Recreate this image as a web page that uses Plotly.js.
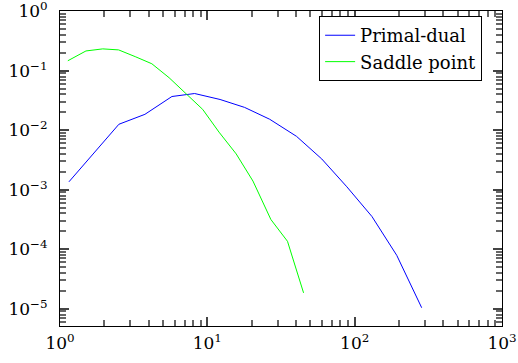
<!DOCTYPE html>
<html>
<head>
<meta charset="utf-8">
<script src="https://cdn.plot.ly/plotly-3.0.1.min.js"></script>
<style>html,body{margin:0;padding:0;background:#fff}#chart{width:518px;height:363px}</style>
</head>
<body>
<div id="chart"></div>
<script>
const primalDualX = [1.15, 1.70, 2.51, 3.77, 5.75, 8.2, 12.2, 17.9, 26.5, 40.3, 59.8, 88.5, 131, 193, 285];
const primalDualY = [0.00136, 0.0041, 0.0126, 0.0185, 0.0369, 0.0414, 0.0329, 0.0242, 0.0153, 0.0079, 0.00329, 0.00112, 0.000355, 0.000079, 0.0000104];
const saddleX = [1.13, 1.5, 1.95, 2.5, 3.27, 4.2, 5.5, 7.2, 9.3, 12, 15.7, 20.4, 27, 35, 45];
const saddleY = [0.147, 0.215, 0.233, 0.224, 0.171, 0.131, 0.0764, 0.041, 0.0224, 0.0093, 0.004, 0.0014, 0.000316, 0.000136, 0.0000185];
const seriesNames = ['Primal-dual', 'Saddle point'];
const xTickVals = [1, 10, 100, 1000];
const xTickText = ['10<sup>0</sup>', '10<sup>1</sup>', '10<sup>2</sup>', '10<sup>3</sup>'];
const yTickVals = [1e-5, 1e-4, 1e-3, 1e-2, 1e-1, 1];
const yTickText = ['10<sup>−5</sup>', '10<sup>−4</sup>', '10<sup>−3</sup>', '10<sup>−2</sup>', '10<sup>−1</sup>', '10<sup>0</sup>'];

function minorTicks(lo, hi) {
  const out = [];
  for (let e = lo; e < hi; e++) for (let d = 2; d <= 9; d++) out.push(d * Math.pow(10, e));
  return out;
}
const xMinor = minorTicks(0, 3);
const yMinor = minorTicks(-6, 0).filter(v => v > 5.1e-6);

const FAMILY = 'DejaVu Serif';
const FONT = {family: FAMILY, size: 17, color: '#000'};
const LEGEND_FONT = {family: FAMILY, size: 18, color: '#000'};
const xRange = [0, 3];
const yRange = [-5.29, 0.004];

const data = [
  {x: primalDualX, y: primalDualY, name: seriesNames[0], type: 'scatter', mode: 'lines', line: {color: '#0000ff', width: 1}},
  {x: saddleX, y: saddleY, name: seriesNames[1], type: 'scatter', mode: 'lines', line: {color: '#00ff00', width: 1}},
  {x: [10], y: [0.01], xaxis: 'x2', yaxis: 'y2', type: 'scatter', mode: 'markers', marker: {opacity: 0}, showlegend: false, hoverinfo: 'skip'}
];
const minorAxis = {type: 'log', tickmode: 'array', ticks: 'inside', ticklen: 6, tickwidth: 1.5, tickcolor: '#666',
  showticklabels: false, mirror: 'allticks', showline: false, showgrid: false, zeroline: false};
const layout = {
  width: 518, height: 363,
  margin: {l: 60, r: 16, t: 11, b: 37},
  paper_bgcolor: '#fff', plot_bgcolor: '#fff',
  font: FONT,
  showlegend: true,
  legend: {x: 0.955, y: 0.984, xanchor: 'right', yanchor: 'top', bordercolor: '#000', borderwidth: 1, bgcolor: '#fff', font: LEGEND_FONT},
  xaxis: {type: 'log', range: xRange, tickmode: 'array', tickvals: xTickVals, ticktext: xTickText,
    ticks: 'inside', ticklen: 9, tickwidth: 1.5, tickcolor: '#444',
    showline: true, linecolor: '#000', linewidth: 1, mirror: 'allticks', showgrid: false, zeroline: false,
    tickfont: FONT, ticklabeloverflow: 'allow', ticklabelstandoff: 2},
  yaxis: {type: 'log', range: yRange, tickmode: 'array', tickvals: yTickVals, ticktext: yTickText,
    ticks: 'inside', ticklen: 9, tickwidth: 1.5, tickcolor: '#444',
    showline: true, linecolor: '#000', linewidth: 1, mirror: 'allticks', showgrid: false, zeroline: false,
    tickfont: FONT, ticklabeloverflow: 'allow', ticklabelstandoff: 8},
  xaxis2: Object.assign({}, minorAxis, {overlaying: 'x', range: xRange, tickvals: xMinor}),
  yaxis2: Object.assign({}, minorAxis, {overlaying: 'y', range: yRange, tickvals: yMinor})
};
Plotly.newPlot('chart', data, layout, {displayModeBar: false});
</script>
</body>
</html>
